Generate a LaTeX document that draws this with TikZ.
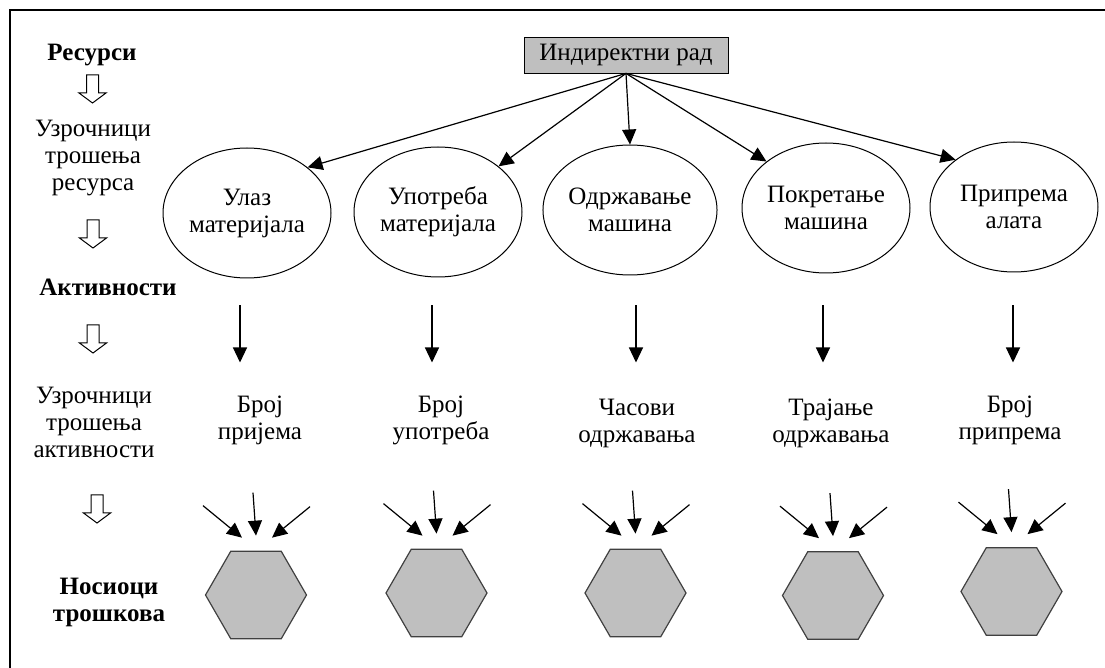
\documentclass[tikz,border=0pt]{standalone}
\usepackage{fontspec}
\setmainfont{Liberation Serif}
\usetikzlibrary{shapes.geometric,arrows.meta}
\tikzset{
  arr/.style={-{Triangle[length=7.5pt,width=7pt]},line width=0.6pt},
  topbox/.style={draw,fill=black!25,minimum width=102pt,minimum height=18pt,inner sep=0pt},
  activ/.style={draw,ellipse,line width=0.5pt,minimum width=84pt,minimum height=65pt,inner sep=0pt,align=center},
  driver/.style={align=center,inner sep=1pt},
  costobj/.style={draw=black!75,fill=black!25,regular polygon,regular polygon sides=6,minimum size=50.5pt,inner sep=0pt,line width=0.6pt},
  level/.style={align=center},
  levelb/.style={align=center,font=\fontsize{12.5}{13.5}\selectfont\bfseries},
  hollowdown/.pic={\draw[line width=0.5pt] (-6,0) -- (-6,18) -- (-13.5,18) -- (0,28) -- (13.5,18) -- (6,18) -- (6,0) -- cycle;}
}
\begin{document}
\begin{tikzpicture}[x=0.5pt,y=-0.5pt,every node/.style={font=\fontsize{12.5}{13.5}\selectfont}]
\useasboundingbox (0,0) rectangle (1105,668);
\draw[line width=1pt] (10,668) -- (10,10) -- (1105,10);

\node[levelb] (res) at (92,55) {Ресурси};
\pic at (92.5,75) {hollowdown};
\node[level] (rdrv) at (93,158) {Узрочници\\трошења\\ресурса};
\pic at (93,220) {hollowdown};
\node[levelb] (act) at (108,287) {Активности};
\pic at (93,325) {hollowdown};
\node[level] (adrv) at (94,422) {Узрочници\\трошења\\активности};
\pic at (97,495) {hollowdown};
\node[levelb] (obj) at (109,602) {Носиоци\\трошкова};

\node[topbox] (ind) at (626,55) {Индиректни рад};

\foreach \i/\x/\y/\t in {1/247/213/{Улаз\\материјала},2/438/212/{Употреба\\материјала},3/630/210/{Одржавање\\машина},4/826/208/{Покретање\\машина},5/1014/207/{Припрема\\алата}}
  \node[activ] (e\i) at (\x,\y) {\t};
\foreach \i/\a in {1/37.5,2/37.5,3/90,4/142,5/141.5}
  \draw[arr] (ind.south) -- (e\i.\a);

\foreach \i/\x/\y/\t in {1/260/420/{Број\\пријема},2/441/420/{Број\\употреба},3/637/423/{Часови\\одржавања},4/831/423/{Трајање\\одржавања},5/1010/420/{Број\\припрема}}
  \node[driver] (d\i) at (\x,\y) {\t};
\foreach \i/\dx/\dy in {1/-7/27,2/-6/28,3/6/30,4/-3/32,5/-1/33}
  \draw[arr] (e\i.south) ++(\dx,\dy) -- ++(0,57);

\foreach \i/\x/\y in {1/256/595,2/436.5/593,3/635.5/593,4/833/595.5,5/1011.5/591.5}{
  \node[costobj] (h\i) at (\x,\y) {};
  \foreach \sx/\sy/\ex/\ey in {-53/-45/-14/-13,-3/-58/0/-15,54/-44/16/-13}
    \draw[arr] ([shift={(\sx,\sy)}]h\i.north) -- ([shift={(\ex,\ey)}]h\i.north);
}
\end{tikzpicture}
\end{document}
